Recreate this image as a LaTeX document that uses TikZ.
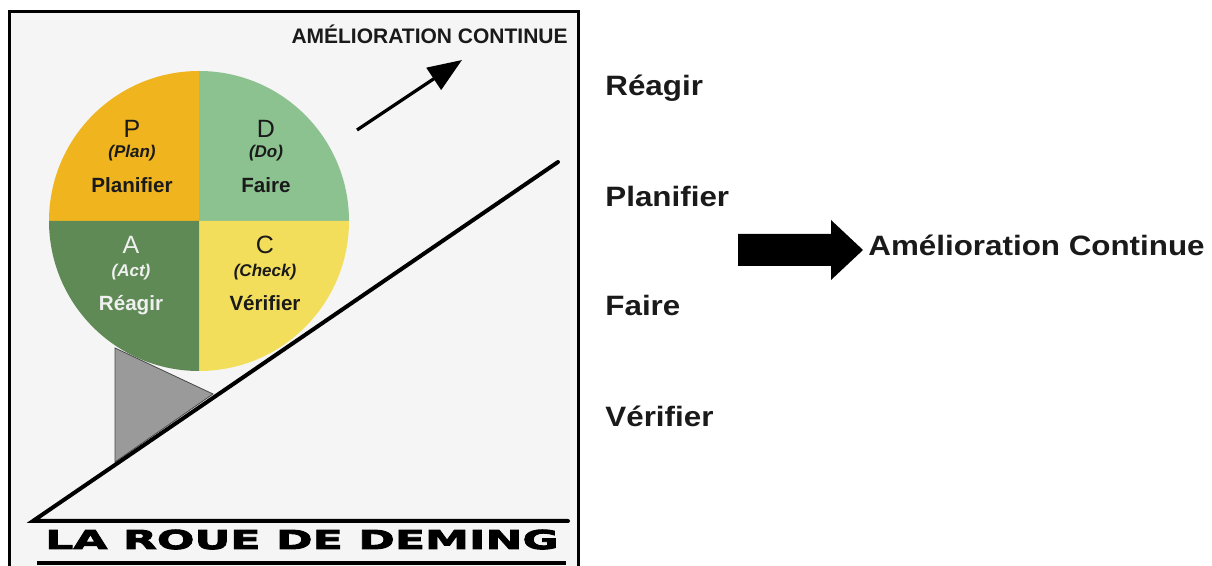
\documentclass[tikz,border=0pt]{standalone}
\usepackage{fontspec}
\setmainfont{Liberation Sans}
\newfontfamily\sidefont[FakeStretch=1.12]{Liberation Sans}
\newfontfamily\titlefont[FakeStretch=1.7,FakeBold=3.5]{DejaVu Sans}
\usetikzlibrary{arrows.meta}
\definecolor{panel}{HTML}{F5F5F5}
\definecolor{plancol}{HTML}{F0B51E}
\definecolor{docol}{HTML}{8CC190}
\definecolor{actcol}{HTML}{5F8A56}
\definecolor{checkcol}{HTML}{F3DE5C}
\definecolor{wedge}{HTML}{9A9A9A}
\definecolor{ink}{HTML}{1A1A1A}

\begin{document}
\begin{tikzpicture}[x=0.5pt,y=-0.5pt,
                    every node/.style={inner sep=0pt, text=ink},
                    letter/.style={anchor=base, font=\fontsize{12.5pt}{14pt}\selectfont},
                    eng/.style={anchor=base, font=\fontsize{8.5pt}{10pt}\selectfont\bfseries\itshape},
                    fr/.style={anchor=base, font=\fontsize{10.3pt}{12pt}\selectfont\bfseries},
                    side/.style={anchor=base west, font=\sidefont\fontsize{14pt}{16pt}\selectfont\bfseries},
                    heavy/.style={line width=2pt}]

  \useasboundingbox (0,0) rectangle (1212,566);
  \clip (0,0) rectangle (1212,566);
  \fill[white] (0,0) rectangle (1212,566);

  % panel on the left
  \fill[panel] (9,12) rectangle (578,600);
  \draw[line width=1.5pt] (9,12) rectangle (578,600);

  % wedge under the wheel
  \filldraw[fill=wedge, draw=ink!80, line width=0.4pt] (115,348) -- (115,462) -- (213,394) -- cycle;

  % the wheel
  \coordinate (O) at (199,221);
  \fill[plancol]  (O) -- +(-150,0) arc (180:270:150) -- cycle;
  \fill[docol]    (O) -- +(0,-150) arc (270:360:150) -- cycle;
  \fill[checkcol] (O) -- +(150,0)  arc (0:90:150)    -- cycle;
  \fill[actcol]   (O) -- +(0,150)  arc (90:180:150)  -- cycle;

  \node[letter] at (132,138) (P)    {P};
  \node[eng]    at (132,158) (Pen)  {(Plan)};
  \node[fr]     at (132,193) (Pfr)  {Planifier};
  \node[letter] at (266,138) (D)    {D};
  \node[eng]    at (266,158) (Den)  {(Do)};
  \node[fr]     at (266,193) (Dfr)  {Faire};
  \node[letter, text=white!94!black] at (131,254) (A)   {A};
  \node[eng, text=white!94!black]    at (131,277) (Aen) {(Act)};
  \node[fr, text=white!94!black]     at (131,311) (Afr) {Réagir};
  \node[letter] at (265,254) (C)    {C};
  \node[eng]    at (265,277) (Cen)  {(Check)};
  \node[fr]     at (265,311) (Cfr)  {Vérifier};

  % slope, floor and title
  \coordinate (foot)  at (33,521);
  \coordinate (crest) at (558,162);
  \coordinate (floor) at (568,521);
  \draw[heavy, line cap=round] (crest) -- (foot) -- (floor);

  \node[anchor=base, text=black, font=\titlefont\fontsize{13pt}{15pt}\selectfont\bfseries] at (302,549) (title) {LA ROUE DE DEMING};
  \coordinate (rule0) at (37,563);
  \coordinate (rule1) at (566,563);
  \draw[heavy] (rule0) -- (rule1);

  \node[anchor=base east, font=\fontsize{10.5pt}{12pt}\selectfont\bfseries] at (568,44) (amel) {AMÉLIORATION CONTINUE};
  \coordinate (up0) at (357,130);
  \coordinate (up1) at (462,60);
  \draw[line width=1.6pt, -{Triangle[length=17pt,width=13pt]}] (up0) -- (up1);

  % list on the right
  \node[side] at (605,96)  (r1) {Réagir};
  \node[side] at (605,207) (r2) {Planifier};
  \node[side] at (605,316) (r3) {Faire};
  \node[side] at (605,427) (r4) {Vérifier};

  \fill[black] (738,234) -- (831,234) -- (831,220) -- (863,250) -- (831,280) -- (831,266) -- (738,266) -- cycle;
  \coordinate (tip) at (863,250);
  \node[side] at (868,256) (goal) {Amélioration Continue};

\end{tikzpicture}
\end{document}
